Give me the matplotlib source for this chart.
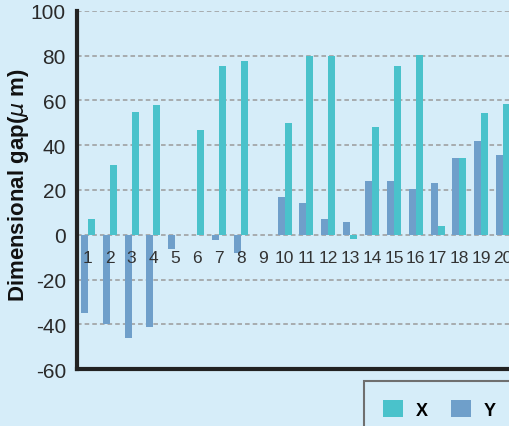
import numpy as np
import matplotlib.pyplot as plt
from matplotlib.patches import Patch

# dimensional gap per sample, in micrometres
samples = list(range(1, 21))
gap_x = [7, 31, 55, 58, 0, 47, 75.5, 77.5, 0, 50,
         80, 80, -2, 48, 75.5, 80.5, 3.7, 34.5, 54.5, 58.5]
gap_y = [-35, -40, -46, -41.3, -6.5, 0, -2.2, -8, 0, 17,
         14, 7.2, 5.5, 24, 24, 20.5, 23, 34.5, 42, 35.5]
y_ticks = [-60, -40, -20, 0, 20, 40, 60, 80, 100]

bg = '#d6edf9'
col_x = '#4ac2cb'
col_y = '#6f9fca'

fig = plt.figure(figsize=(5.1, 4.27), dpi=100, facecolor=bg)
# axes run past the right edge of the picture, like the cropped original
ax = fig.add_axes([77 / 510, 57 / 427, 448 / 510, 358 / 427], facecolor=bg)

pos = np.array(samples)
w = 0.32
ax.bar(pos - w / 2, gap_y, width=w, color=col_y, zorder=3)
ax.bar(pos + w / 2, gap_x, width=w, color=col_x, zorder=3)

ax.set_xlim(0.5, 21)
ax.set_ylim(-60, 100)
ax.set_yticks(y_ticks)
ax.set_yticklabels([str(t) for t in y_ticks], fontsize=15,
                   family='Liberation Sans', color='#2a2a2a')
ax.tick_params(axis='y', length=0, pad=8)
ax.set_xticks([])

for t in y_ticks[1:]:
    ax.axhline(t, color='#9a9a9a', lw=1.1, ls=(0, (3, 2)), zorder=1)

# category labels sit just under the zero line
for s in samples:
    ax.text(s, -10, str(s), ha='center', va='center', fontsize=12.5,
            family='Liberation Sans', color='#333333', zorder=4)

for side in ['top', 'right']:
    ax.spines[side].set_visible(False)
for side in ['left', 'bottom']:
    ax.spines[side].set_linewidth(3)
    ax.spines[side].set_color('#222222')

fig.text(19 / 510, 1 - 185 / 427, 'Dimensional gap(' + r'$\mu$' + ' m)',
         rotation=90, ha='center', va='center', fontsize=16,
         fontweight='bold', family='Liberation Sans', color='#111111')

handles = [Patch(facecolor=col_x, edgecolor='none', label='X'),
           Patch(facecolor=col_y, edgecolor='none', label='Y')]
leg = fig.legend(handles=handles, loc='upper left', ncol=2,
                 bbox_to_anchor=(364 / 510, 1 - 382 / 427), borderaxespad=0,
                 prop={'family': 'Liberation Sans', 'weight': 'bold', 'size': 13},
                 handlelength=1.1, handleheight=1.1, handletextpad=0.7,
                 columnspacing=1.3, borderpad=1.05, fancybox=False,
                 facecolor=bg, edgecolor='#6f6f6f', framealpha=1)
leg.get_frame().set_linewidth(1.5)

fig.savefig('out.png', dpi=100, facecolor=bg)
